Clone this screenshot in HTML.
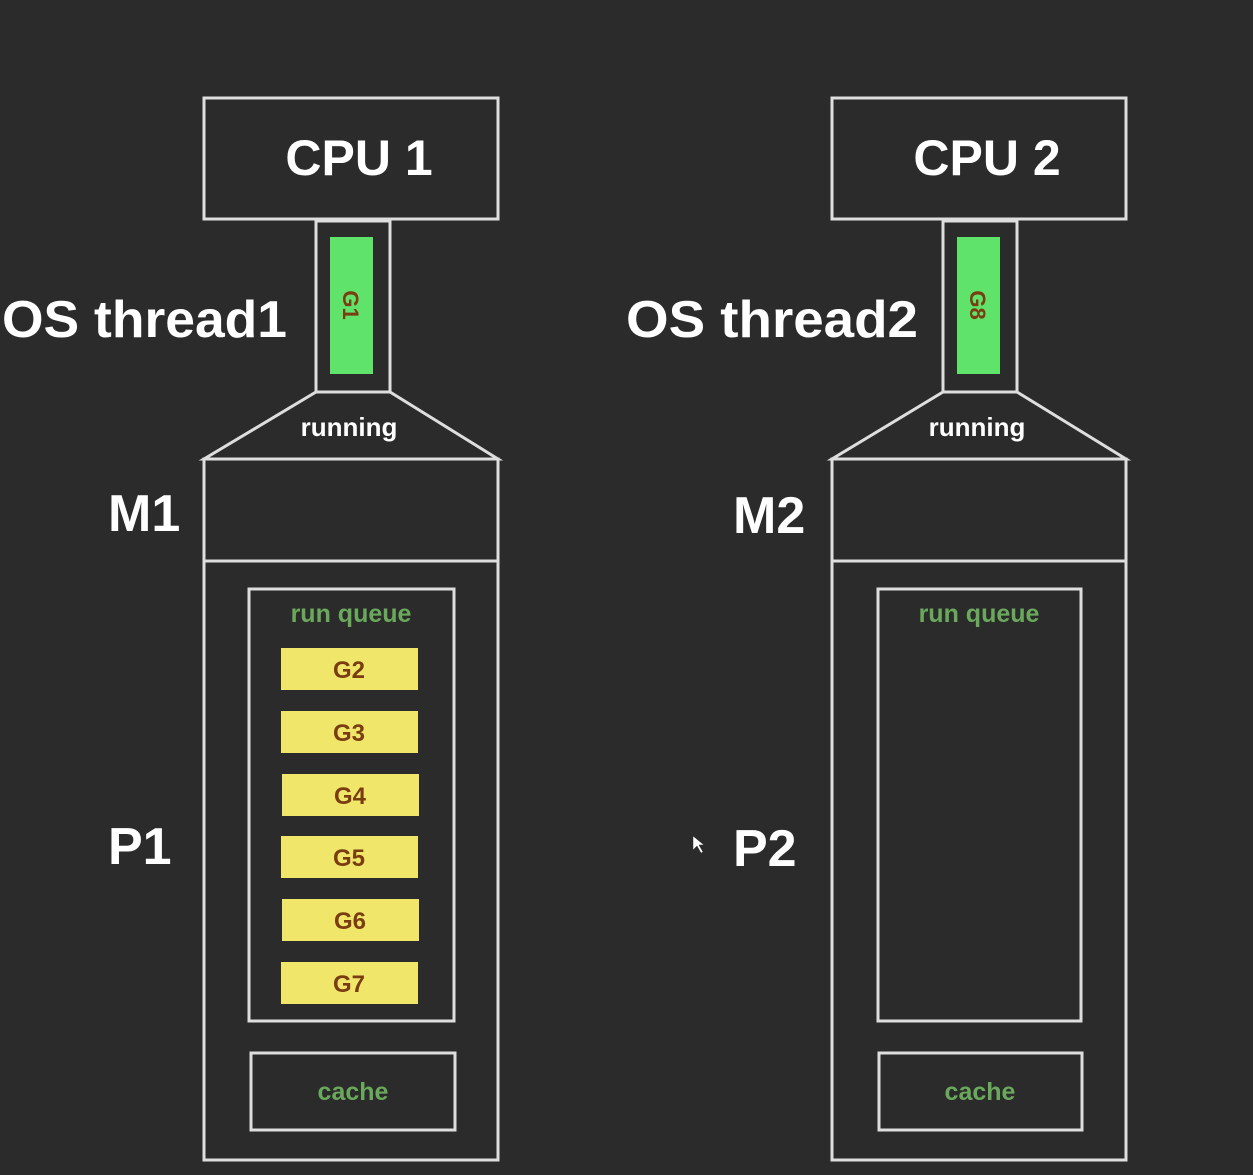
<!DOCTYPE html>
<html><head><meta charset="utf-8"><style>
html,body{margin:0;padding:0;background:#2b2b2b;}
svg{display:block;font-family:"Liberation Sans",sans-serif;font-weight:bold;}
</style></head><body>
<svg width="1253" height="1175" viewBox="0 0 1253 1175" xmlns="http://www.w3.org/2000/svg">
<rect width="1253" height="1175" fill="#2b2b2b"/>
<g fill="none" stroke="#dedede" stroke-width="3">
  <!-- left -->
  <rect x="204" y="98" width="294" height="121"/>
  <rect x="316" y="221" width="74" height="171"/>
  <polygon points="316,392 390,392 498,459 204,459"/>
  <rect x="204" y="459" width="294" height="102"/>
  <rect x="204" y="561" width="294" height="599"/>
  <rect x="249" y="589" width="205" height="432"/>
  <rect x="251" y="1053" width="204" height="77"/>
  <!-- right -->
  <rect x="832" y="98" width="294" height="121"/>
  <rect x="943" y="221" width="74" height="171"/>
  <polygon points="943,392 1017,392 1126,459 832,459"/>
  <rect x="832" y="459" width="294" height="102"/>
  <rect x="832" y="561" width="294" height="599"/>
  <rect x="878" y="589" width="203" height="432"/>
  <rect x="879" y="1053" width="203" height="77"/>
</g>
<rect x="330" y="237" width="43" height="137" fill="#5fe36a"/>
<rect x="957" y="237" width="43" height="137" fill="#5fe36a"/>
<g fill="#f0e76a">
  <rect x="281" y="648" width="137" height="42"/>
  <rect x="281" y="711" width="137" height="42"/>
  <rect x="282" y="774" width="137" height="42"/>
  <rect x="281" y="836" width="137" height="42"/>
  <rect x="282" y="899" width="137" height="42"/>
  <rect x="281" y="962" width="137" height="42"/>
</g>
<g fill="#ffffff">
  <text x="359" y="175" font-size="50" text-anchor="middle">CPU 1</text>
  <text x="987" y="175" font-size="50" text-anchor="middle">CPU 2</text>
  <text x="2" y="337" font-size="52" textLength="285" lengthAdjust="spacingAndGlyphs">OS thread1</text>
  <text x="626" y="337" font-size="52" textLength="292" lengthAdjust="spacingAndGlyphs">OS thread2</text>
  <text x="108" y="531" font-size="52">M1</text>
  <text x="733" y="533" font-size="52">M2</text>
  <text x="108" y="864" font-size="52">P1</text>
  <text x="733" y="866" font-size="52">P2</text>
  <text x="349" y="436" font-size="26" text-anchor="middle">running</text>
  <text x="977" y="436" font-size="26" text-anchor="middle">running</text>
</g>
<g fill="#6aa85c" font-size="25" text-anchor="middle">
  <text x="351" y="622">run queue</text>
  <text x="979" y="622">run queue</text>
  <text x="353" y="1100">cache</text>
  <text x="980" y="1100">cache</text>
</g>
<g fill="#7a3d12" font-size="24" text-anchor="middle">
  <text x="349" y="678">G2</text>
  <text x="349" y="741">G3</text>
  <text x="350" y="804">G4</text>
  <text x="349" y="866">G5</text>
  <text x="350" y="929">G6</text>
  <text x="349" y="992">G7</text>
  <text transform="translate(343,305) rotate(90)" font-size="22">G1</text>
  <text transform="translate(970,305) rotate(90)" font-size="22">G8</text>
</g>
<polygon points="693,836 693,850 697,846 701,853 703,852 699,845 704,845" fill="#ffffff" stroke="#333" stroke-width="0.5"/>
</svg>
</body></html>
